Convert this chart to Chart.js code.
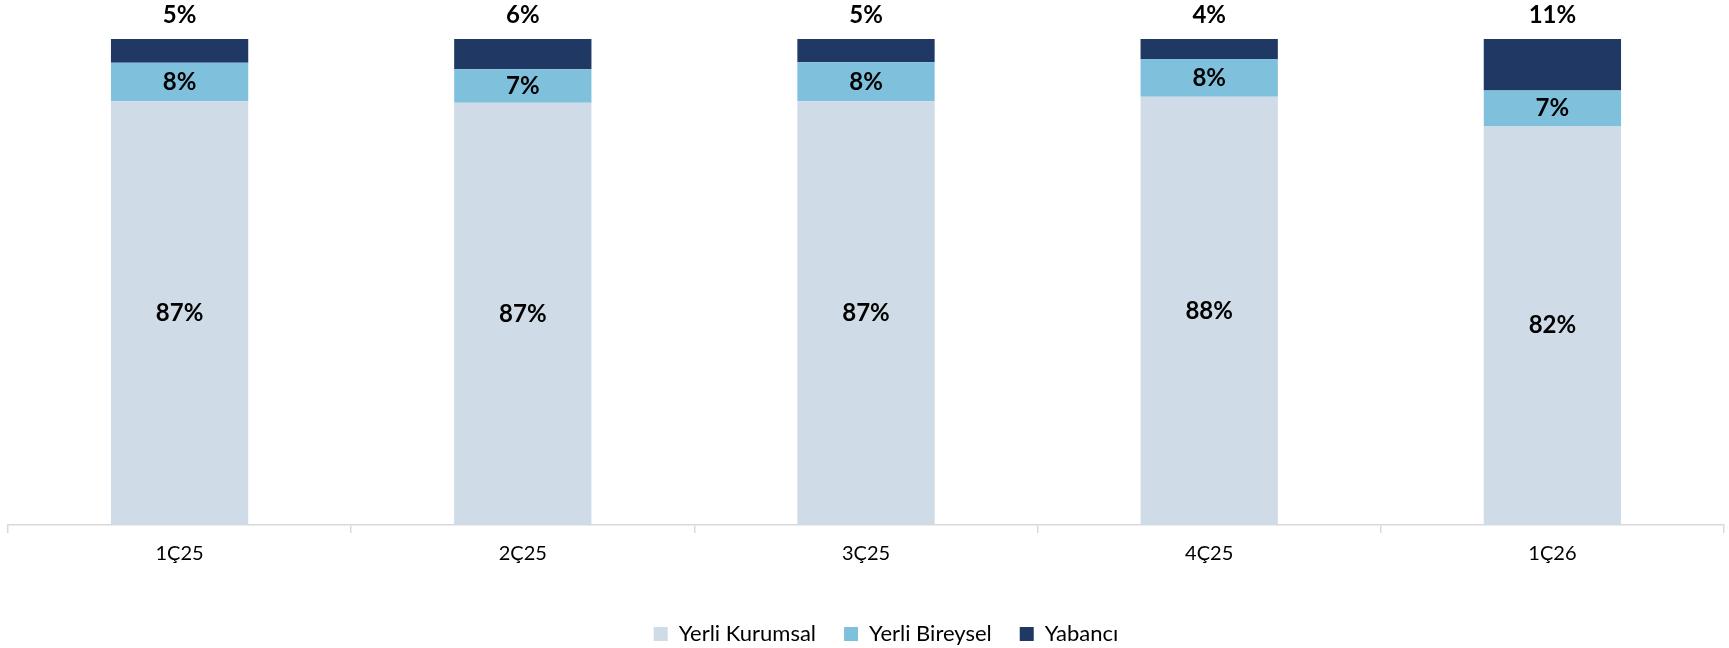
<!DOCTYPE html>
<html><head><meta charset="utf-8">
<script src="https://cdn.jsdelivr.net/npm/chart.js@4.4.0/dist/chart.umd.min.js"></script>
<style>html,body{margin:0;padding:0;background:#fff;} #wrap{width:1729px;height:648px;position:relative}</style>
</head><body><div id="wrap"><canvas id="c"></canvas></div>
<script>
const categories = ['1Ç25', '2Ç25', '3Ç25', '4Ç25', '1Ç26'];
const seriesNames = ['Yerli Kurumsal', 'Yerli Bireysel', 'Yabancı'];
const yerliKurumsal = [87.2, 86.9, 87.2, 88.1, 82.0];
const yerliBireysel = [7.9, 6.9, 8.0, 7.8, 7.4];
const yabanci = [4.9, 6.2, 4.8, 4.1, 10.6];
const seriesColors = ['#cfdbe6', '#7fc1dc', '#203864'];

const FONT = 'Lato, "Open Sans", sans-serif';

const labelPlugin = {
  id: 'segLabels',
  afterDatasetsDraw(chart) {
    const ctx = chart.ctx;
    ctx.save();
    ctx.font = 'bold 24px ' + FONT;
    ctx.fillStyle = '#000';
    ctx.textAlign = 'center';
    ctx.textBaseline = 'middle';
    chart.data.datasets.forEach((ds, di) => {
      const meta = chart.getDatasetMeta(di);
      meta.data.forEach((el, i) => {
        const txt = Math.round(ds.data[i]) + '%';
        let y;
        if (di === 2) {
          y = Math.min(el.y, el.base) - 24;
        } else {
          y = (el.y + el.base) / 2;
        }
        ctx.fillText(txt, el.x, y);
      });
    });
    ctx.restore();
  }
};

const legendShift = {
  id: 'legendShift',
  afterLayout(chart) {
    const lg = chart.legend;
    if (!lg) return;
    const dx = 20;
    const targetTop = 595;
    const dy = targetTop - lg.top;
    lg.left += dx; lg.right += dx;
    lg.top += dy; lg.bottom += dy;
  }
};

new Chart(document.getElementById('c'), {
  type: 'bar',
  data: {
    labels: categories,
    datasets: [
      { label: seriesNames[0], data: yerliKurumsal, backgroundColor: seriesColors[0] },
      { label: seriesNames[1], data: yerliBireysel, backgroundColor: seriesColors[1] },
      { label: seriesNames[2], data: yabanci, backgroundColor: seriesColors[2] }
    ]
  },
  options: {
    responsive: true,
    maintainAspectRatio: false,
    animation: false,
    devicePixelRatio: 1,
    datasets: { bar: { categoryPercentage: 1.0, barPercentage: 0.4, borderWidth: 0 } },
    layout: { padding: { top: 39, left: 8, right: 5, bottom: 13 } },
    scales: {
      x: {
        stacked: true,
        grid: { display: true, drawOnChartArea: false, drawTicks: true, tickLength: 8, color: '#d9d9d9', lineWidth: 1.5, offset: true },
        border: { display: true, color: '#d9d9d9', width: 1.5 },
        ticks: { color: '#000', font: { family: FONT, size: 20 }, padding: 9 }
      },
      y: { stacked: true, min: 0, max: 100, display: false }
    },
    plugins: {
      legend: {
        position: 'bottom',
        labels: { boxWidth: 14, boxHeight: 14, padding: 28, color: '#000', font: { family: FONT, size: 22 } }
      },
      tooltip: { enabled: false }
    }
  },
  plugins: [labelPlugin, legendShift]
});
</script>
</body></html>
